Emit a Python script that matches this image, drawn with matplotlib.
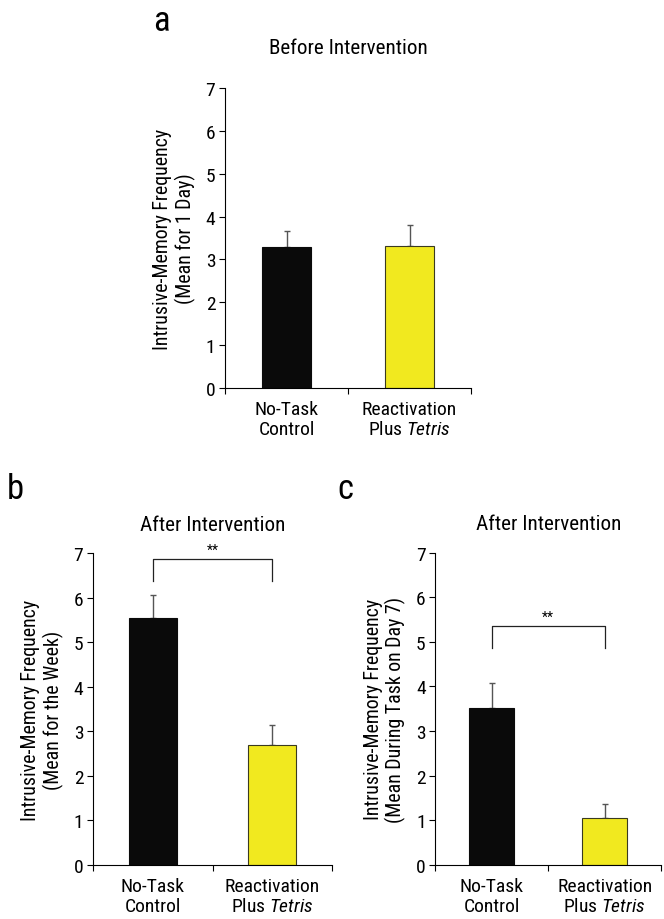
import matplotlib
matplotlib.use("Agg")
import matplotlib.pyplot as plt

categories = ["No-Task\nControl", "Reactivation\nPlus $\\it{Tetris}$"]
a_means = [3.28, 3.31]
a_errs = [0.38, 0.49]
b_means = [5.54, 2.70]
b_errs = [0.53, 0.45]
c_means = [3.51, 1.05]
c_errs = [0.56, 0.31]
yticks = [0, 1, 2, 3, 4, 5, 6, 7]

FONT = "Roboto Condensed"
plt.rcParams['font.family'] = [FONT, 'DejaVu Sans']
plt.rcParams['mathtext.fontset'] = 'custom'
plt.rcParams['mathtext.it'] = FONT + ':italic'
plt.rcParams['mathtext.rm'] = FONT

colors = ["#0a0a0a", "#f1e91f"]

fig = plt.figure(figsize=(6.64, 9.2), dpi=100)

def panel(rect, means, errs, title, title_pad, ylabel, letter, letter_xy, bracket=None):
    ax = fig.add_axes(rect)
    x = [0, 1]
    ax.bar(x, means, width=0.4, color=colors, edgecolor=["#0a0a0a", "#3a3a20"], linewidth=0.8, zorder=2)
    ax.errorbar(x, means, yerr=[[0, 0], errs], fmt='none', ecolor="#555555", elinewidth=1.0,
                capsize=2.5, capthick=1.0, zorder=1)
    ax.set_xlim(-0.5, 1.5)
    ax.set_ylim(0, 7)
    ax.set_yticks(yticks)
    ax.set_xticks(x)
    ax.set_xticklabels(categories, fontsize=14, linespacing=1.1)
    ax.tick_params(axis='x', which='major', length=0, pad=9)
    ax.set_xticks([-0.5, 0.5, 1.5], minor=True)
    ax.tick_params(axis='x', which='minor', length=4, width=0.8, direction='out')
    ax.tick_params(axis='y', length=4, width=0.8, labelsize=14, pad=3)
    for s in ['top', 'right']:
        ax.spines[s].set_visible(False)
    for s in ['left', 'bottom']:
        ax.spines[s].set_linewidth(0.8)
    ax.set_ylabel(ylabel, fontsize=14.3, linespacing=1.15, labelpad=7)
    ax.set_title(title, fontsize=15.2, pad=title_pad)
    if bracket is not None:
        top, bot = bracket
        ax.plot([0, 0, 1, 1], [bot, top, top, bot], color="#222222", linewidth=0.9, clip_on=False)
        ax.text(0.5, top + 0.06, "**", ha='center', va='bottom', fontsize=10)
    fig.text(letter_xy[0], letter_xy[1], letter, fontsize=25, ha='center', va='center')
    return ax

panel([0.3389, 0.5772, 0.3705, 0.3261], a_means, a_errs, "Before Intervention", 25,
      "Intrusive-Memory Frequency\n(Mean for 1 Day)", "a", (0.2425, 0.977))
panel([0.1401, 0.0587, 0.36, 0.3388], b_means, b_errs, "After Intervention", 17,
      "Intrusive-Memory Frequency\n(Mean for the Week)", "b", (0.023, 0.468), bracket=(6.87, 6.38))
panel([0.6556, 0.059, 0.34, 0.3392], c_means, c_errs, "After Intervention", 17,
      "Intrusive-Memory Frequency\n(Mean During Task on Day 7)", "c", (0.52, 0.468), bracket=(5.35, 4.86))

fig.savefig("out.png", dpi=100)
